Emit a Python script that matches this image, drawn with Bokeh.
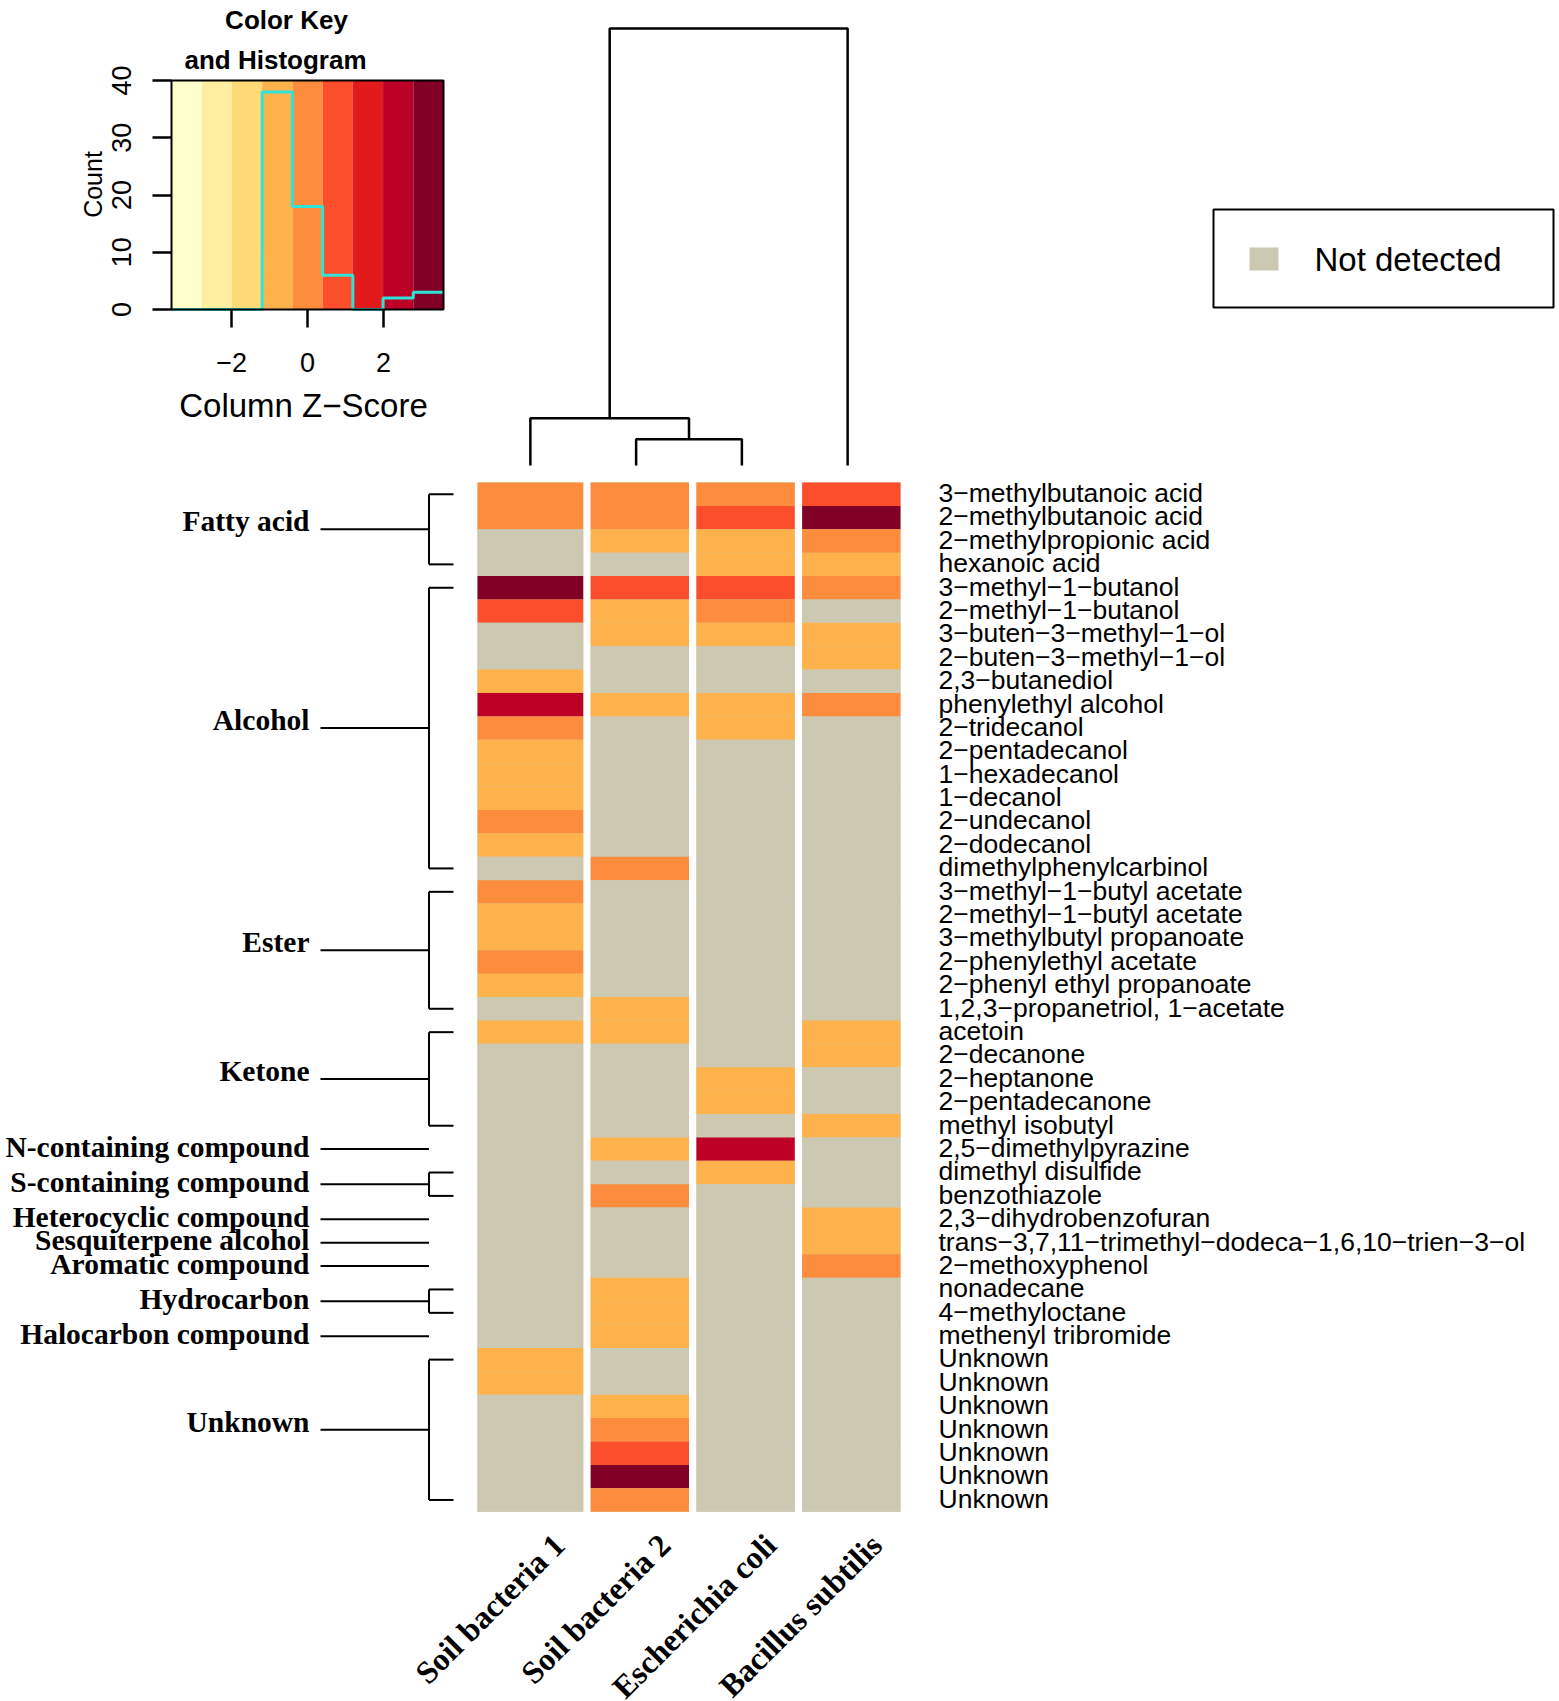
import math
import numpy as np
from bokeh.plotting import figure
from bokeh.models import Range1d, ColumnDataSource, FixedTicker, LinearColorMapper
from bokeh.layouts import row, column
from bokeh.embed import file_html
from bokeh.resources import INLINE
from bokeh.core.properties import value

NA = float("nan")

# ---------------- data ----------------
samples = ["Soil bacteria 1", "Soil bacteria 2", "Escherichia coli", "Bacillus subtilis"]

compounds = [
    "3−methylbutanoic acid", "2−methylbutanoic acid", "2−methylpropionic acid", "hexanoic acid",
    "3−methyl−1−butanol", "2−methyl−1−butanol", "3−buten−3−methyl−1−ol", "2−buten−3−methyl−1−ol",
    "2,3−butanediol", "phenylethyl alcohol", "2−tridecanol", "2−pentadecanol", "1−hexadecanol",
    "1−decanol", "2−undecanol", "2−dodecanol", "dimethylphenylcarbinol",
    "3−methyl−1−butyl acetate", "2−methyl−1−butyl acetate", "3−methylbutyl propanoate",
    "2−phenylethyl acetate", "2−phenyl ethyl propanoate", "1,2,3−propanetriol, 1−acetate",
    "acetoin", "2−decanone", "2−heptanone", "2−pentadecanone", "methyl isobutyl",
    "2,5−dimethylpyrazine", "dimethyl disulfide", "benzothiazole", "2,3−dihydrobenzofuran",
    "trans−3,7,11−trimethyl−dodeca−1,6,10−trien−3−ol", "2−methoxyphenol", "nonadecane",
    "4−methyloctane", "methenyl tribromide",
    "Unknown", "Unknown", "Unknown", "Unknown", "Unknown", "Unknown", "Unknown",
]

# column z-scores (NaN = not detected)
z_soil1 = [0.0, 0.0, NA, NA, 3.2, 0.8, NA, NA, -0.8, 2.4, 0.0, -0.8, -0.8, -0.8, 0.0, -0.8, NA,
           0.0, -0.8, -0.8, 0.0, -0.8, NA, -0.8, NA, NA, NA, NA, NA, NA, NA, NA, NA, NA, NA, NA, NA,
           -0.8, -0.8, NA, NA, NA, NA, NA]
z_soil2 = [0.0, 0.0, -0.8, NA, 0.8, -0.8, -0.8, NA, NA, -0.8, NA, NA, NA, NA, NA, NA, 0.0,
           NA, NA, NA, NA, NA, -0.8, -0.8, NA, NA, NA, NA, -0.8, NA, 0.0, NA, NA, NA, -0.8, -0.8, -0.8,
           NA, NA, -0.8, 0.0, 0.8, 3.2, 0.0]
z_ecoli = [0.0, 0.8, -0.8, -0.8, 0.8, 0.0, -0.8, NA, NA, -0.8, -0.8, NA, NA, NA, NA, NA, NA,
           NA, NA, NA, NA, NA, NA, NA, NA, -0.8, -0.8, NA, 2.4, -0.8, NA, NA, NA, NA, NA, NA, NA,
           NA, NA, NA, NA, NA, NA, NA]
z_bsub = [0.8, 3.2, 0.0, -0.8, 0.0, NA, -0.8, -0.8, NA, 0.0, NA, NA, NA, NA, NA, NA, NA,
          NA, NA, NA, NA, NA, NA, -0.8, -0.8, NA, NA, -0.8, NA, NA, NA, -0.8, -0.8, 0.0, NA, NA, NA,
          NA, NA, NA, NA, NA, NA, NA]
z_columns = [z_soil1, z_soil2, z_ecoli, z_bsub]

# colour key
key_palette = ["#FFFFCC", "#FFEDA0", "#FED976", "#FEB24C", "#FD8D3C",
               "#FC4E2A", "#E31A1C", "#BD0026", "#800026"]
z_limit = 3.58
hist_counts = [0, 0, 0, 38, 18, 6, 0, 2, 3]
hist_top = 40
key_ticks_x = [-2, 0, 2]
key_ticks_y = [0, 10, 20, 30, 40]
not_detected_color = "#CDC8B1"

# compound classes (first row, last row)
group_names = ["Fatty acid", "Alcohol", "Ester", "Ketone", "N-containing compound",
               "S-containing compound", "Heterocyclic compound", "Sesquiterpene alcohol",
               "Aromatic compound", "Hydrocarbon", "Halocarbon compound", "Unknown"]
group_first = [0, 4, 17, 23, 28, 29, 31, 32, 33, 34, 36, 37]
group_last = [3, 16, 22, 27, 28, 30, 31, 32, 33, 35, 36, 43]

# column dendrogram (hclust style: negative = leaf, positive = earlier merge)
merge_a = [-2, -1, 2]
merge_b = [-3, 1, -4]
merge_height = [0.6, 1.08, 10.0]
leaf_order = [1, 2, 3, 4]

# ---------------- layout constants (page pixels) ----------------
PAGE_W = 1559
KEY_W, TOP_H = 480, 470
MAIN_H = 1230
COL_W = 105.75      # px per heatmap column
HEAT_X0 = 477       # heatmap left edge
ROW_H = 23.39       # px per heatmap row
HEAT_Y0 = 482 - TOP_H   # heatmap top inside the main figure
SEP = 0.07
DEND_BASE = 465
DEND_SCALE = 43.7
KEY_X0, KEY_PX_Z = 171, 37.99      # key box left edge, px per z unit
KEY_Y0, KEY_PX_C = 309, 229 / 40.0  # key box bottom edge, px per count

SANS = value("Liberation Sans")
SERIF = value("Liberation Serif")


def hx(px):
    return (px - HEAT_X0) / COL_W


def dy(py):
    return (DEND_BASE - py) / DEND_SCALE


def kx(px):
    return -z_limit + (px - KEY_X0) / KEY_PX_Z


def ky(py):
    return (KEY_Y0 - py) / KEY_PX_C


def bare(fig):
    fig.axis.visible = False
    fig.grid.visible = False
    fig.outline_line_color = None
    fig.background_fill_color = "white"
    fig.border_fill_color = "white"


# ---------------- colour key + histogram ----------------
kp = figure(width=KEY_W, height=TOP_H, x_range=Range1d(kx(0), kx(KEY_W)),
            y_range=Range1d(ky(TOP_H), ky(0)), toolbar_location=None, output_backend="svg",
            min_border=0)
kp.grid.visible = False
kp.outline_line_color = None
edges = np.linspace(-z_limit, z_limit, len(key_palette) + 1)
kp.quad(left=edges[:-1], right=edges[1:], bottom=0, top=hist_top, fill_color=key_palette,
        line_color=None)
kp.step(x=list(edges), y=hist_counts + [hist_counts[-1]], mode="after",
        line_color="#2FE3D8", line_width=3)
kp.quad(left=[-z_limit], right=[z_limit], bottom=[0], top=[hist_top], fill_alpha=0,
        line_color="black", line_width=2)
kp.text(x=[kx(286), kx(275)], y=[ky(19), ky(59)],
        text=["Color Key", "and Histogram"], text_font=SANS, text_font_style="bold",
        text_font_size="26px", text_align="center", text_baseline="middle", text_color="black")
kp.text(x=[kx(303)], y=[ky(405)], text=["Column Z−Score"], text_font=SANS,
        text_font_size="33px", text_align="center", text_baseline="middle", text_color="black")
kp.text(x=[kx(92)], y=[ky(184)], text=["Count"], angle=math.pi / 2, text_font=SANS,
        text_font_size="25px", text_align="center", text_baseline="middle", text_color="black")

for ax in (kp.xaxis[0], kp.yaxis[0]):
    ax.axis_line_color = None
    ax.major_tick_in = 0
    ax.major_tick_line_width = 2.5
    ax.major_tick_line_color = "black"
    ax.minor_tick_line_color = None
    ax.major_label_text_font = "Liberation Sans"
    ax.major_label_text_font_size = "27px"
    ax.major_label_text_color = "black"

kp.xaxis.fixed_location = 0
kp.xaxis.ticker = FixedTicker(ticks=key_ticks_x)
kp.xaxis.major_label_overrides = {t: (("−" + str(-t)) if t < 0 else str(t)) for t in key_ticks_x}
kp.xaxis.major_tick_out = 18
kp.xaxis.major_label_standoff = 25

kp.yaxis.fixed_location = -z_limit
kp.yaxis.ticker = FixedTicker(ticks=key_ticks_y)
kp.yaxis.major_tick_out = 19
kp.yaxis.major_label_orientation = "parallel"
kp.yaxis.major_label_standoff = 22

# ---------------- dendrogram + legend ----------------
tp = figure(width=PAGE_W - KEY_W, height=TOP_H,
            x_range=Range1d(hx(KEY_W), hx(PAGE_W)),
            y_range=Range1d(dy(TOP_H), dy(0)),
            toolbar_location=None, output_backend="svg", min_border=0)
bare(tp)

leaf_x = {leaf: i + 0.5 for i, leaf in enumerate(leaf_order)}
node_x, node_h = {}, {}


def pos(ref):
    if ref < 0:
        return leaf_x[-ref], 0.0
    return node_x[ref], node_h[ref]


xs, ys = [], []
for k, (a, b, h) in enumerate(zip(merge_a, merge_b, merge_height), start=1):
    xa, ha = pos(a)
    xb, hb = pos(b)
    xs.append([xa, xa, xb, xb])
    ys.append([ha, h, h, hb])
    node_x[k] = (xa + xb) / 2.0
    node_h[k] = h
tp.multi_line(xs=xs, ys=ys, line_color="black", line_width=2.5)

# legend "Not detected"
tp.quad(left=[hx(1213)], right=[hx(1553)], top=[dy(209)], bottom=[dy(307)],
        fill_color="white", line_color="black", line_width=2)
tp.quad(left=[hx(1249)], right=[hx(1278)], top=[dy(247)], bottom=[dy(270)],
        fill_color=not_detected_color, line_color=None)
tp.text(x=[hx(1314)], y=[dy(259)], text=["Not detected"], text_font=SANS,
        text_font_size="33px", text_align="left", text_baseline="middle", text_color="black")

# ---------------- heatmap ----------------
n_rows = len(compounds)
mp = figure(width=PAGE_W, height=MAIN_H,
            x_range=Range1d(hx(0), hx(PAGE_W)),
            y_range=Range1d((MAIN_H - HEAT_Y0) / ROW_H, -HEAT_Y0 / ROW_H),
            toolbar_location=None, output_backend="svg", min_border=0)
bare(mp)

col_left = [j + (SEP if j > 0 else 0.0) for j in range(len(samples))]
col_right = [j + 1.0 for j in range(len(samples))]
mp.quad(left=col_left, right=col_right, top=[0] * len(samples), bottom=[n_rows] * len(samples),
        fill_color=not_detected_color, line_color=None)

left, right, top, bottom, zz = [], [], [], [], []
for j, col in enumerate(z_columns):
    for r, z in enumerate(col):
        left.append(col_left[j])
        right.append(col_right[j])
        top.append(r)
        bottom.append(r + 1)
        zz.append(z)
cells = ColumnDataSource(dict(left=left, right=right, top=top, bottom=bottom,
                              z=np.array(zz, dtype=float)))
mapper = LinearColorMapper(palette=key_palette, low=-z_limit, high=z_limit,
                           nan_color=not_detected_color)
mp.quad(left="left", right="right", top="top", bottom="bottom", source=cells,
        fill_color={"field": "z", "transform": mapper}, line_color=None)

# row labels (right)
mp.text(x=[hx(938)] * n_rows, y=[r + 0.45 for r in range(n_rows)],
        text=compounds, text_font=SANS, text_font_size="26.5px", text_align="left",
        text_baseline="middle", text_color="black")

# column labels (bottom)
mp.text(x=[i + 0.5 + 0.27 for i in range(len(samples))], y=[n_rows + 1.2] * len(samples),
        text=samples, angle=math.pi / 4, text_font=SERIF, text_font_style="bold",
        text_font_size="32px", text_align="right", text_baseline="middle", text_color="black")

# compound-class brackets (left)
x_text, x_line0, x_br, x_tick = hx(309), hx(320), hx(428.5), hx(453)
gy = [(f + l) / 2.0 + 0.5 for f, l in zip(group_first, group_last)]
mp.segment(x0=[x_line0] * len(gy), x1=[x_br] * len(gy), y0=gy, y1=gy,
           line_color="black", line_width=2)
multi = [i for i in range(len(group_names)) if group_last[i] > group_first[i]]
mp.segment(x0=[x_br] * len(multi), x1=[x_br] * len(multi),
           y0=[group_first[i] + 0.5 for i in multi], y1=[group_last[i] + 0.5 for i in multi],
           line_color="black", line_width=2)
tick_y = [group_first[i] + 0.5 for i in multi] + [group_last[i] + 0.5 for i in multi]
mp.segment(x0=[x_br] * len(tick_y), x1=[x_tick] * len(tick_y), y0=tick_y, y1=tick_y,
           line_color="black", line_width=2)
label_shift = [0.35 if (l - f) >= 3 else 0.1 for f, l in zip(group_first, group_last)]
mp.text(x=[x_text] * len(gy), y=[g - s for g, s in zip(gy, label_shift)], text=group_names,
        text_font=SERIF, text_font_style="bold", text_font_size="29.5px", text_align="right",
        text_baseline="middle", text_color="black")

layout = column(row(kp, tp), mp)
open("out.html", "w").write(file_html(layout, INLINE))
